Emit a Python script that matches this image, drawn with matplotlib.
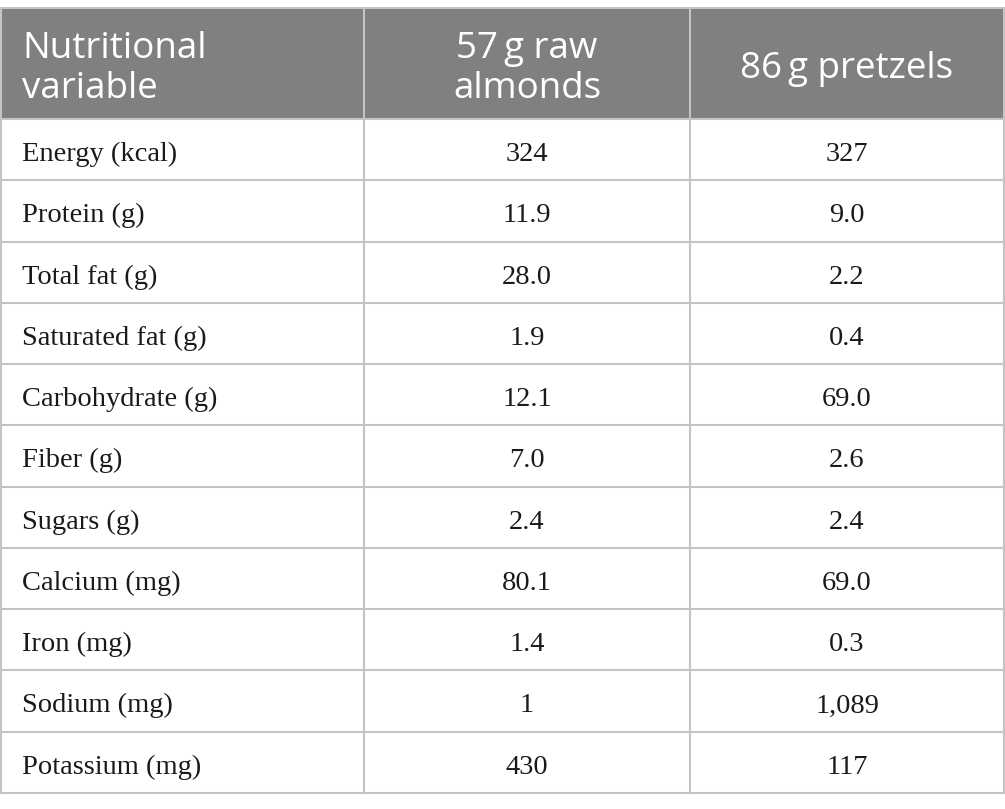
import matplotlib
matplotlib.use("Agg")
import matplotlib.pyplot as plt
from matplotlib.patches import Rectangle

headers = [["Nutritional", "variable"], ["57\u2009g raw", "almonds"], ["86\u2009g pretzels"]]
variables = ["Energy (kcal)", "Protein (g)", "Total fat (g)", "Saturated fat (g)",
             "Carbohydrate (g)", "Fiber (g)", "Sugars (g)", "Calcium (mg)",
             "Iron (mg)", "Sodium (mg)", "Potassium (mg)"]
almonds = ["324", "11.9", "28.0", "1.9", "12.1", "7.0", "2.4", "80.1", "1.4", "1", "430"]
pretzels = ["327", "9.0", "2.2", "0.4", "69.0", "2.6", "2.4", "69.0", "0.3", "1,089", "117"]

W, H = 1005, 809
fig = plt.figure(figsize=(W / 100, H / 100), dpi=100)
ax = fig.add_axes([0, 0, 1, 1])
ax.set_xlim(0, W)
ax.set_ylim(H, 0)
ax.axis("off")

col_x = [1, 364, 690, 1004]
top, head_bot, bottom = 8, 119, 793
n = len(variables)
row_h = (bottom - head_bot) / n
line_c = "#c4c4c4"
head_c = "#808080"

ax.add_patch(Rectangle((col_x[0], top), col_x[-1] - col_x[0], head_bot - top,
                       facecolor=head_c, edgecolor="none", zorder=1))

# header text
hfont = dict(family=["Open Sans", "DejaVu Sans"], fontsize=26.5, color="white")
for j, lines in enumerate(headers):
    if len(lines) == 2:
        bases = [58, 98]
    else:
        bases = [78]
    for ln, b in zip(lines, bases):
        if j == 0:
            ax.text(22, b, ln, ha="left", va="baseline", **hfont)
        else:
            ax.text((col_x[j] + col_x[j + 1]) / 2, b, ln, ha="center",
                    va="baseline", **hfont)

bfont = dict(family="Liberation Serif", fontsize=20.5, color="#1a1a1a")
for i in range(n):
    yb = head_bot + i * row_h + 42
    ax.text(22, yb, variables[i], ha="left", va="baseline", **bfont)
    ax.text((col_x[1] + col_x[2]) / 2, yb, almonds[i], ha="center", va="baseline", **bfont)
    ax.text((col_x[2] + col_x[3]) / 2, yb, pretzels[i], ha="center", va="baseline", **bfont)

# grid lines
for i in range(n + 1):
    y = head_bot + i * row_h
    ax.plot([col_x[0], col_x[-1]], [y, y], color=line_c, lw=1.5, zorder=2)
ax.plot([col_x[0], col_x[-1]], [top, top], color=line_c, lw=1.5, zorder=2)
for x in col_x:
    ax.plot([x, x], [top, bottom], color=line_c, lw=1.5, zorder=2)

fig.savefig("out.png", dpi=100, facecolor="white")
